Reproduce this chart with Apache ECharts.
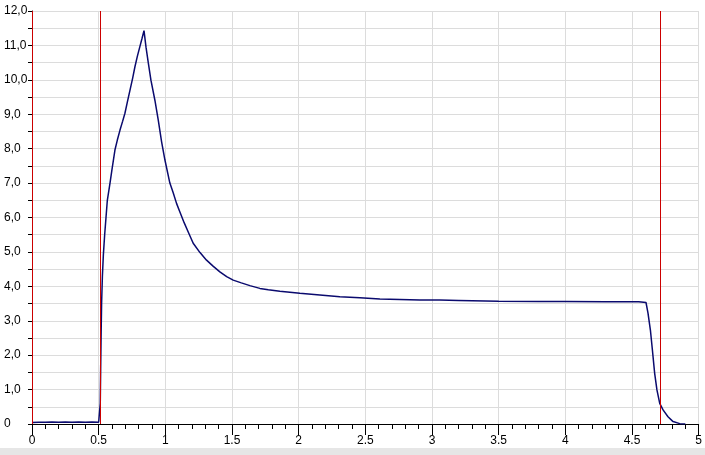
<!DOCTYPE html>
<html>
<head>
<meta charset="utf-8">
<script src="https://cdn.jsdelivr.net/npm/echarts@6/dist/echarts.min.js"></script>
<style>
html,body{margin:0;padding:0;background:#fff;}
#chart{width:705px;height:455px;}
</style>
</head>
<body>
<div id="chart"></div>
<script>
// Time (s) sampled along the trace
var timeValues = [0, 0.05, 0.1, 0.15, 0.2, 0.25, 0.3, 0.35, 0.4, 0.45, 0.5, 0.508, 0.512, 0.515, 0.518, 0.522, 0.528, 0.535, 0.545, 0.555, 0.565, 0.585, 0.6, 0.622, 0.64, 0.66, 0.68, 0.697, 0.715, 0.735, 0.755, 0.772, 0.79, 0.81, 0.825, 0.84, 0.855, 0.872, 0.892, 0.922, 0.947, 0.972, 0.997, 1.034, 1.059, 1.084, 1.11, 1.141, 1.175, 1.209, 1.26, 1.309, 1.36, 1.409, 1.46, 1.509, 1.57, 1.634, 1.709, 1.772, 1.859, 2.009, 2.159, 2.309, 2.459, 2.609, 2.759, 2.909, 3.058, 3.2, 3.5, 3.8, 4.0, 4.3, 4.55, 4.605, 4.62, 4.638, 4.653, 4.67, 4.687, 4.708, 4.733, 4.77, 4.808, 4.858, 4.9];
// Signal values
var signalValues = [0.04, 0.05, 0.05, 0.06, 0.05, 0.06, 0.05, 0.06, 0.05, 0.06, 0.05, 0.08, 0.6, 1.6, 2.5, 3.5, 4.3, 4.9, 5.5, 6.0, 6.5, 7.0, 7.4, 7.96, 8.25, 8.54, 8.8, 9.03, 9.35, 9.7, 10.05, 10.38, 10.68, 10.98, 11.2, 11.43, 10.95, 10.5, 9.99, 9.4, 8.83, 8.2, 7.67, 7.0, 6.72, 6.41, 6.15, 5.85, 5.55, 5.25, 4.98, 4.76, 4.58, 4.42, 4.28, 4.18, 4.1, 4.02, 3.94, 3.9, 3.86, 3.8, 3.75, 3.7, 3.67, 3.63, 3.62, 3.6, 3.6, 3.59, 3.57, 3.56, 3.56, 3.55, 3.55, 3.53, 3.22, 2.73, 2.15, 1.47, 0.99, 0.6, 0.41, 0.21, 0.07, 0.01, 0];
// Red marker positions (cursor at start, two limit markers)
var markerPositions = [0, 0.51, 4.71];
// Axis ranges
var xRange = [0, 5];
var yRange = [0, 12];

var pairs = timeValues.map(function (t, i) { return [t, signalValues[i]]; });

var chart = echarts.init(document.getElementById('chart'), null, {renderer: 'canvas'});
var font = 'Liberation Sans, Arial, sans-serif';
chart.setOption({
  animation: false,
  backgroundColor: '#ffffff',
  grid: {left: 32, right: 6, top: 11, bottom: 31, containLabel: false},
  graphic: [{
    type: 'rect', left: 0, top: 448, shape: {width: 705, height: 7},
    style: {fill: '#e6e6e6'}, silent: true, z: -1
  }],
  xAxis: {
    type: 'value', min: xRange[0], max: xRange[1], interval: 0.5,
    axisLine: {show: true, lineStyle: {color: '#000', width: 1}},
    axisTick: {show: true, length: 11, lineStyle: {color: '#000'}},
    minorTick: {show: true, splitNumber: 5, length: 5, lineStyle: {color: '#000'}},
    splitLine: {show: true, lineStyle: {color: '#dcdcdc', width: 1}},
    axisLabel: {
      color: '#000', fontFamily: font, fontSize: 12, margin: 11,
      showMaxLabel: true, showMinLabel: true,
      formatter: function (v) { return String(Math.round(v * 10) / 10); }
    }
  },
  yAxis: {
    type: 'value', min: yRange[0], max: yRange[1], interval: 0.5,
    axisLine: {show: true, lineStyle: {color: '#000', width: 1}},
    axisTick: {show: true, length: 4, lineStyle: {color: '#000'}},
    splitLine: {show: true, lineStyle: {color: '#dcdcdc', width: 1}},
    axisLabel: {
      color: '#000', fontFamily: font, fontSize: 12, margin: 28, align: 'left',
      showMaxLabel: true, showMinLabel: true,
      formatter: function (v) {
        if (Math.abs(v - Math.round(v)) > 1e-6) return '';
        if (v === 0) return '0';
        return Math.round(v) + ',0';
      }
    }
  },
  series: [{
    type: 'line',
    data: pairs,
    showSymbol: false,
    symbol: 'none',
    lineStyle: {color: '#0a0a6e', width: 1.5},
    silent: true,
    markLine: {
      silent: true,
      symbol: ['none', 'none'],
      label: {show: false},
      lineStyle: {color: '#cc0000', type: 'solid', width: 1},
      data: markerPositions.map(function (p) { return {xAxis: p}; })
    }
  }]
});
</script>
</body>
</html>
